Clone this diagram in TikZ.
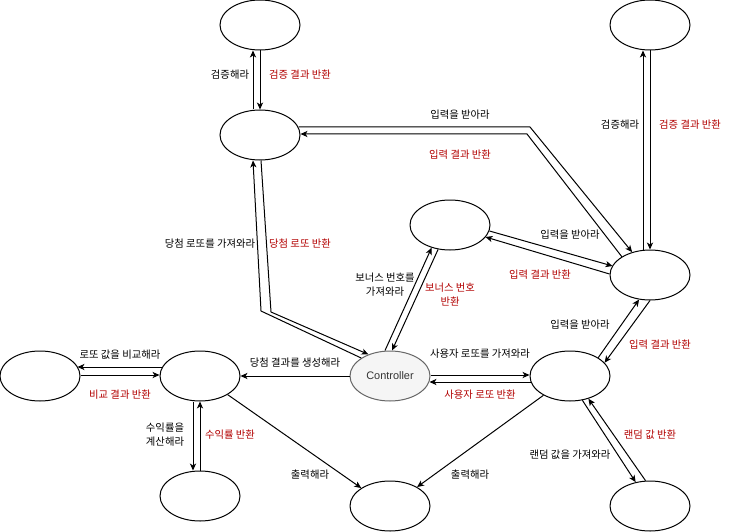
\documentclass[tikz,border=0pt]{standalone}
\usepackage{fontspec}
\setmainfont{Noto Sans CJK KR}
\newfontfamily\latinfont{Liberation Sans}
\usepackage{xcolor}
\usepackage{tikz}
\usetikzlibrary{arrows.meta, shapes.geometric}
\definecolor{retred}{RGB}{178,0,0}
\definecolor{ctrlfill}{RGB}{245,245,245}
\definecolor{ctrldraw}{RGB}{102,102,102}
\definecolor{ctrltext}{RGB}{51,51,51}

\begin{document}
\begin{tikzpicture}[->,
	>={Stealth[length=5.2pt, width=4.6pt, inset=1.4pt]},
	x=0.75pt, y=-0.75pt,
	line width=0.75pt,
	state/.style={draw=black, ellipse, minimum width=60pt, minimum height=37.5pt, inner sep=0pt},
	req/.style={font=\fontsize{7.75}{10.5}\selectfont, text=black, align=center, inner sep=1pt},
	ret/.style={req, text=retred}]
	\useasboundingbox (0,0) rectangle (741,531);
	\node[state] (verifyA) at (260,25) {};
	\node[state] (verifyB) at (650,25) {};
	\node[state] (winlotto) at (260,135) {};
	\node[state] (bonus) at (450,225) {};
	\node[state] (inputv) at (650,275) {};
	\node[state] (compare) at (40,376) {};
	\node[state] (result) at (200,376) {};
	\node[state, fill=ctrlfill, draw=ctrldraw] (ctrl) at (390,376) {\latinfont\fontsize{8.2}{10}\selectfont\color{ctrltext}Controller};
	\node[state] (user) at (570,376) {};
	\node[state] (profit) at (200,496) {};
	\node[state] (output) at (390,506) {};
	\node[state] (random) at (650,506) {};

	\draw ([shift={(-7,0)}]winlotto.north) -- ([shift={(-7,0)}]verifyA.south);
	\draw (verifyA.south) -- (winlotto.north);
	\node[req] (askVerifyA) at (230,75) {검증해라};
	\node[ret] (gotVerifyA) at (300,75) {검증 결과 반환};

	\draw ([shift={(-7,0)}]inputv.north) -- ([shift={(-7,0)}]verifyB.south);
	\draw (verifyB.south) -- (inputv.north);
	\node[req] (askVerifyB) at (620,125) {검증해라};
	\node[ret] (gotVerifyB) at (690,125) {검증 결과 반환};

	\draw ([shift={(-2,-8)}]winlotto.east) -- (530,127) -- (inputv.128);
	\draw (inputv.147) -- (527,134) -- ([shift={(0,-1)}]winlotto.east);
	\node[req] (askInput) at (460,115) {입력을 받아라};
	\node[ret] (gotInput) at (460,155) {입력 결과 반환};

	\draw ([shift={(-1,6)}]bonus.east) -- ([shift={(3,-9)}]inputv.west);
	\draw ([shift={(0,-1)}]inputv.west) -- ([shift={(-5,12)}]bonus.east);
	\node[req] (askBonusIn) at (570,235) {입력을 받아라};
	\node[ret] (gotBonusIn) at (540,275) {입력 결과 반환};

	\draw ([shift={(-5,0)}]ctrl.north) -- (bonus.231);
	\draw (bonus.244) -- ([shift={(2,0)}]ctrl.north);
	\node[req] (askBonus) at (385,285) {보너스 번호를\\가져와라};
	\node[ret] (gotBonus) at (450,295) {보너스 번호\\반환};

	\draw (ctrl.148) -- (261,311) -- ([shift={(-7,0)}]winlotto.south);
	\draw ([shift={(1,0)}]winlotto.south) -- (271,312) -- (ctrl.135);
	\node[req] (askWin) at (210,244) {당첨 로또를 가져와라};
	\node[ret] (gotWin) at (300,244) {당첨 로또 반환};

	\draw (ctrl.west) -- (result.east);
	\node[req] (askResult) at (295,363) {당첨 결과를 생성해라};

	\draw ([shift={(0,-1)}]ctrl.east) -- ([shift={(0,-1)}]user.west);
	\draw ([shift={(1,6)}]user.west) -- ([shift={(-1,6)}]ctrl.east);
	\node[req] (askUser) at (480,354) {사용자 로또를 가져와라};
	\node[ret] (gotUser) at (480,395) {사용자 로또 반환};

	\draw ([shift={(3,-9)}]result.west) -- ([shift={(-3,-9)}]compare.east);
	\draw ([shift={(0,-1)}]compare.east) -- ([shift={(0,-1)}]result.west);
	\node[req] (askCompare) at (120,355) {로또 값을 비교해라};
	\node[ret] (gotCompare) at (120,395) {비교 결과 반환};

	\draw ([shift={(-7,0)}]result.south) -- ([shift={(-7,0)}]profit.north);
	\draw (profit.north) -- (result.south);
	\node[req] (askProfit) at (165,435) {수익률을\\계산해라};
	\node[ret] (gotProfit) at (230,435) {수익률 반환};

	\draw (result.-34) -- (output.148);
	\node[req] (askPrintA) at (310,475) {출력해라};
	\draw (user.216) -- (output.35);
	\node[req] (askPrintB) at (470,475) {출력해라};

	\draw (user.33) -- (inputv.246);
	\draw (inputv.south) -- (user.21);
	\node[req] (askUserIn) at (580,325) {입력을 받아라};
	\node[ret] (gotUserIn) at (660,345) {입력 결과 반환};

	\draw (user.-63) -- (random.121);
	\draw (random.100) -- (user.-51);
	\node[req] (askRandom) at (570,455) {랜덤 값을 가져와라};
	\node[ret] (gotRandom) at (650,435) {랜덤 값 반환};
\end{tikzpicture}
\end{document}
